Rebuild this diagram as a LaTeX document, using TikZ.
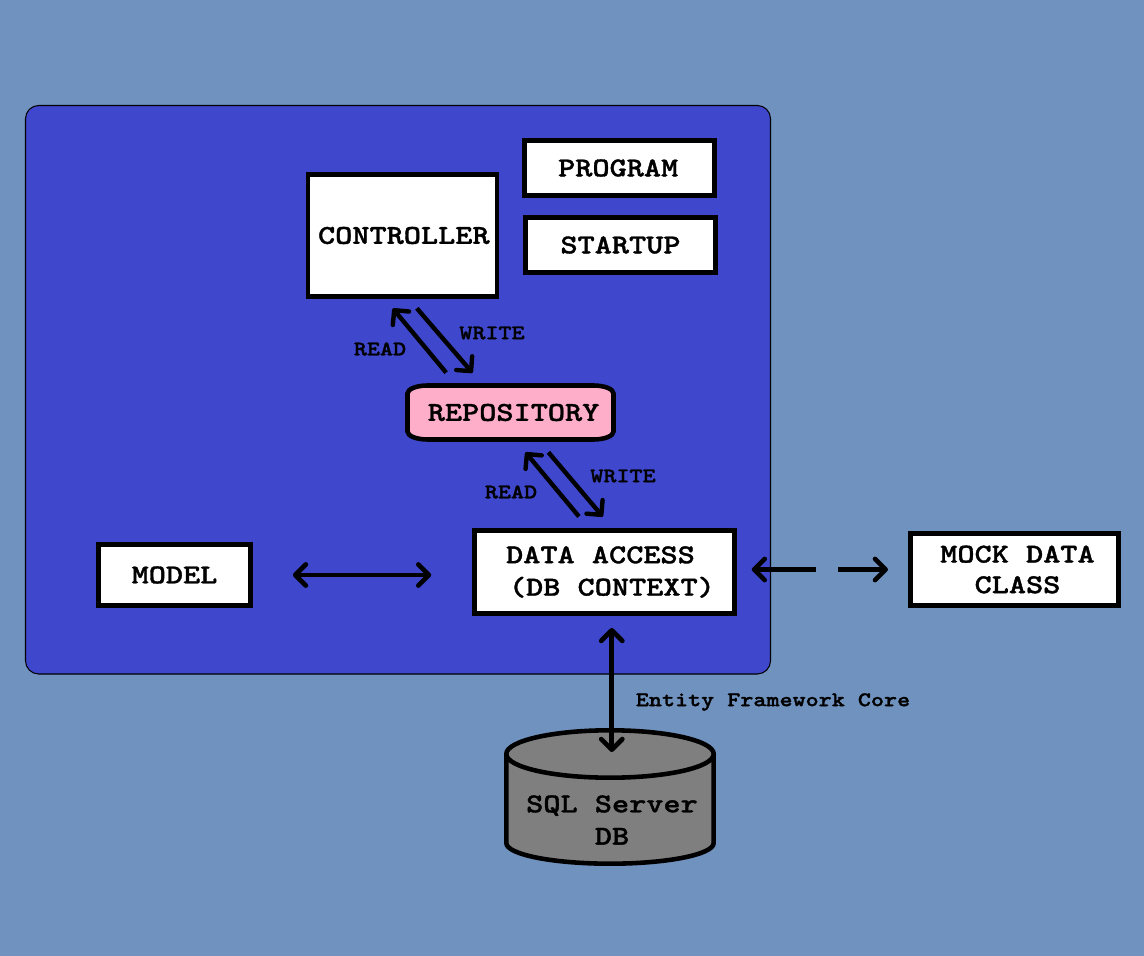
\documentclass[tikz,border=0pt]{standalone}
\usepackage{fontspec}
\newfontfamily\diagramfont[FakeStretch=1.2, FakeBold=1.3]{lmmonolt10-bold.otf}
\usetikzlibrary{arrows.meta}
\definecolor{pagebg}{HTML}{7092BE}
\definecolor{panelbg}{HTML}{3F48CC}
\definecolor{repopink}{HTML}{FFAEC9}
\definecolor{dbgray}{HTML}{7F7F7F}
\tikzset{
  boxfont/.style={font=\diagramfont\fontsize{15.5}{18.4}\selectfont},
  boxnode/.style={boxfont, draw=black, fill=white, line width=2.6pt, inner sep=0pt, align=center},
  smalllabel/.style={inner sep=0pt, font=\diagramfont\fontsize{11.8}{14}\selectfont},
  biarrow/.style={line width=2.7pt, {Straight Barb[length=6pt,width=12pt,line width=2.7pt,round]}-{Straight Barb[length=6pt,width=12pt,line width=2.7pt,round]}},
  onearrow/.style={line width=2.5pt, -{Straight Barb[length=6pt,width=12pt,line width=2.5pt,round]}}
}

\begin{document}
\begin{tikzpicture}[x=0.02cm, y=-0.02cm]
\useasboundingbox (0, 0) rectangle (1144, 956);

% Background and panel
\fill[pagebg] (0, 0) rectangle (1144, 956);
\draw[fill=panelbg, line width=0.6pt, rounded corners=7.5pt] (25.5, 105.5) rectangle (770.5, 674);

% Boxes in the panel
\node[boxnode, minimum width=107.4pt, minimum height=69.7pt] (controller) at (402.5, 235.5) {\hspace*{1.5pt}CONTROLLER};
\node[boxnode, minimum width=108.4pt, minimum height=31.6pt] (program) at (619.5, 168) {PROGRAM\hspace*{1.5pt}};
\node[boxnode, minimum width=108.4pt, minimum height=31.6pt] (startup) at (620.5, 245) {STARTUP};
\node[boxnode, minimum width=86.6pt, minimum height=35pt] (model) at (174.5, 575) {MODEL};
\node[boxnode, minimum width=148pt, minimum height=47.5pt, align=left] (dataaccess) at (604.5, 572) {\hspace*{6.8pt}DATA ACCESS\\\hspace*{8.4pt}(DB CONTEXT)};

% Repository
\draw[fill=repopink, line width=2.6pt] (427.5, 385.5) -- (593.5, 385.5)
  arc[start angle=-90, end angle=0, x radius=20, y radius=8] -- (613.5, 431.5)
  arc[start angle=0, end angle=90, x radius=20, y radius=8] -- (427.5, 439.5)
  arc[start angle=90, end angle=180, x radius=20, y radius=8] -- (407.5, 393.5)
  arc[start angle=180, end angle=270, x radius=20, y radius=8] -- cycle;
\node[boxfont, inner sep=0pt, minimum width=120pt, minimum height=33.6pt] (repository) at (510.5, 412.5) {\hspace*{3.5pt}REPOSITORY};

% Outside boxes
\node[boxnode, minimum width=118.6pt, minimum height=41.2pt] (mockdata) at (1014.5, 569.5) {\hspace*{3.4pt}MOCK DATA\\[-1pt]\hspace*{3.4pt}CLASS};

% SQL cylinder
\draw[fill=dbgray, line width=2.6pt] (506.3, 754) -- (506.3, 843)
  arc[start angle=180, end angle=0, x radius=103.7, y radius=20.7] -- (713.7, 754);
\draw[fill=dbgray, line width=2.6pt] (610, 754) ellipse[x radius=103.7, y radius=23.7];
\node[inner sep=0pt, minimum width=120pt, minimum height=78pt] (sqldb) at (610, 797) {};
\node[boxfont, inner sep=0pt, align=center] (sqllabel) at (612, 820) {SQL Server\\DB};

% Read and write arrows
\draw[onearrow, shorten <=7.4pt, shorten >=7pt] ([xshift=-31.9pt]repository.north) -- ([xshift=-10pt]controller.south);
\draw[onearrow, shorten <=7pt, shorten >=7.4pt] ([xshift=3.6pt]controller.south) -- ([xshift=-16.8pt]repository.north);
\draw[onearrow, shorten <=8.5pt, shorten >=7.4pt] ([xshift=-9.1pt]dataaccess.north) -- ([xshift=3.8pt]repository.south);
\draw[onearrow, shorten <=7.4pt, shorten >=8.5pt] ([xshift=16.8pt]repository.south) -- ([xshift=4.5pt]dataaccess.north);
\node[smalllabel] (readtop) at (380, 349) {READ};
\node[smalllabel] (writetop) at (492, 333) {WRITE};
\node[smalllabel] (readlow) at (511, 492) {READ};
\node[smalllabel] (writelow) at (623, 476) {WRITE};

% Long arrows
\draw[biarrow, shorten <=22.8pt, shorten >=23.3pt] (model.east) -- (model.east -| dataaccess.west);
\draw[biarrow, shorten <=8.5pt, shorten >=11.4pt, dash pattern=on 33.6pt off 13pt on 40pt] (mockdata.west -| dataaccess.east) -- (mockdata.west);
\draw[biarrow, shorten <=6.8pt, shorten >=-13.6pt] ([xshift=1pt]dataaccess.south -| sqldb.north) -- ([xshift=1pt]sqldb.north);
\node[smalllabel] (efcore) at (773, 702) {Entity Framework Core};

\end{tikzpicture}
\end{document}
